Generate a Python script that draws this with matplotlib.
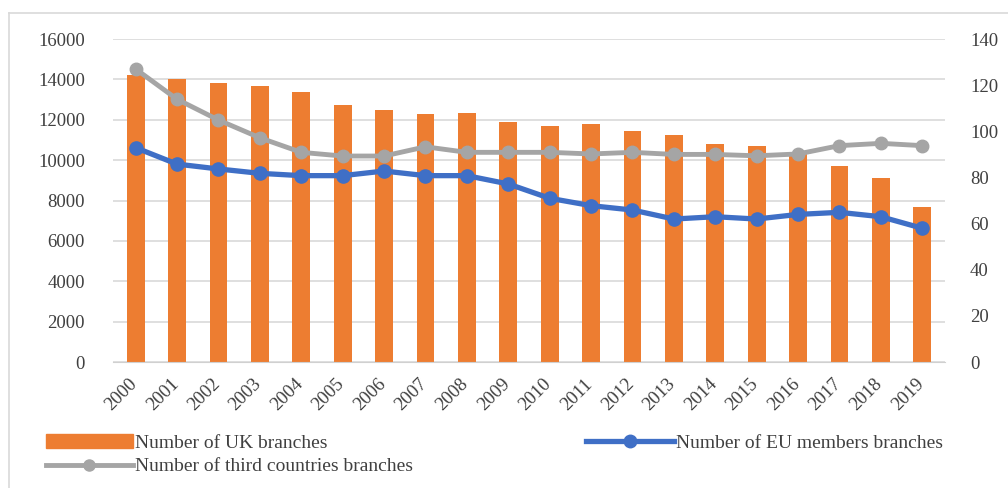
import matplotlib.pyplot as plt
import matplotlib.lines as mlines
import matplotlib.transforms as mtransforms
import numpy as np

plt.rcParams['font.family'] = ['Liberation Serif', 'DejaVu Serif']

years = [str(y) for y in range(2000, 2020)]
uk_branches = [14200, 14000, 13800, 13680, 13390, 12730, 12480, 12270, 12350, 11900,
               11700, 11770, 11440, 11240, 10780, 10710, 10370, 9730, 9130, 7660]
eu_branches = [92.9, 85.8, 83.7, 81.8, 80.8, 80.8, 82.8, 80.8, 80.8, 77.2,
               71.0, 67.8, 65.9, 62.0, 63.0, 62.0, 64.0, 64.9, 63.0, 58.0]
third_branches = [127, 113.9, 104.9, 97.2, 90.9, 89.3, 89.3, 93.3, 90.9, 90.9,
                  90.9, 90.2, 90.9, 90.0, 90.0, 89.4, 90.2, 93.8, 94.8, 93.8]

orange = '#ED7D31'
blue = '#3F6FC6'
grey = '#A5A5A5'
txt = '#404040'

fig = plt.figure(figsize=(10.08, 4.88), dpi=100)
ax = fig.add_axes([0.112, 0.258, 0.8255, 0.662])
ax2 = ax.twinx()

x = np.arange(len(years))
ax.bar(x, uk_branches, width=0.43, color=orange, zorder=2)
ax2.plot(x, third_branches, color=grey, lw=3.5, marker='o', ms=9, zorder=3)
ax2.plot(x, eu_branches, color=blue, lw=3.8, marker='o', ms=9.5, zorder=4)

ax.set_ylim(0, 16000)
ax.set_yticks(range(0, 16001, 2000))
ax2.set_ylim(0, 140)
ax2.set_yticks(range(0, 141, 20))
ax.set_xlim(-0.55, len(years) - 0.45)
ax.set_xticks(x)

ax.grid(axis='y', color='#D9D9D9', lw=1.2, zorder=0)
ax.set_axisbelow(True)
for a in (ax, ax2):
    for s in a.spines.values():
        s.set_visible(False)
    a.tick_params(length=0, labelsize=13.5, colors=txt)
ax.spines['bottom'].set_visible(True)
ax.spines['bottom'].set_color('#D0D0D0')
ax.tick_params(axis='y', pad=20)
ax.tick_params(axis='x', pad=6)
ax2.tick_params(axis='y', pad=18)

ax.set_xticklabels(years, rotation=45, ha='right', rotation_mode='anchor')
# nudge the year labels down-left like the original
shift = mtransforms.ScaledTranslation(-7 / 100, -5 / 100, fig.dpi_scale_trans)
for lab in ax.get_xticklabels():
    lab.set_transform(lab.get_transform() + shift)

h_uk = plt.Rectangle((0, 0), 1, 1, color=orange)
h_eu = mlines.Line2D([], [], color=blue, lw=3.8, marker='o', ms=9)
h_th = mlines.Line2D([], [], color=grey, lw=3.5, marker='o', ms=8)
fig.legend([h_uk, h_th, h_eu],
           ['Number of UK branches', 'Number of third countries branches',
            'Number of EU members branches'],
           ncol=2, loc='lower left', bbox_to_anchor=(0.028, -0.01),
           frameon=False, fontsize=14, handlelength=4.5, handletextpad=0.1,
           columnspacing=8.9, labelspacing=0.3, labelcolor=txt)

fig.add_artist(mlines.Line2D([0.009, 1.0], [1 - 13 / 488, 1 - 13 / 488],
                             color='#D9D9D9', lw=1.2, transform=fig.transFigure))
fig.add_artist(mlines.Line2D([0.009, 0.009], [0.0, 1 - 13 / 488],
                             color='#D9D9D9', lw=1.2, transform=fig.transFigure))

fig.savefig('out.png', dpi=100)
